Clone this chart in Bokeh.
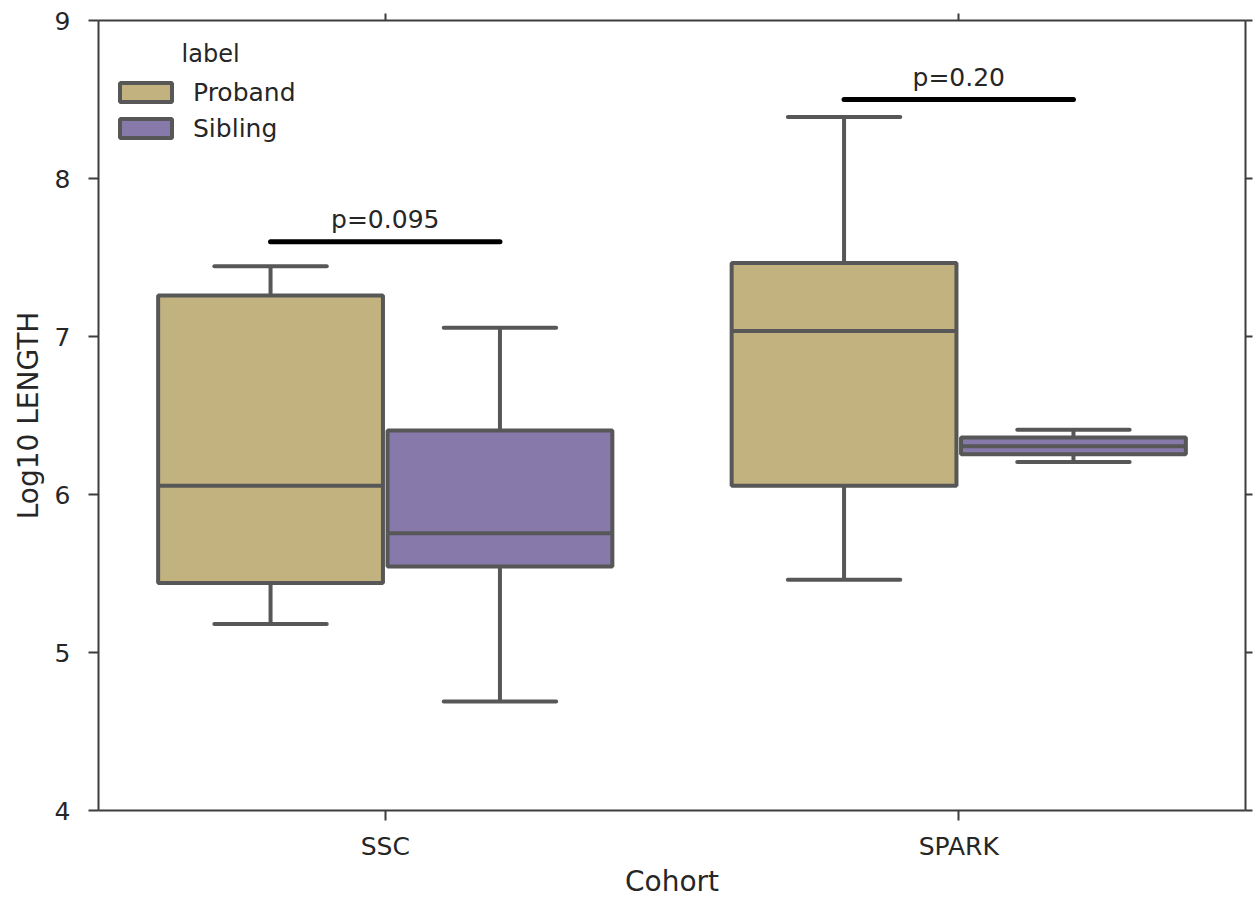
from bokeh.plotting import figure
from bokeh.models import (LinearAxis, Range1d, FixedTicker, Legend, LegendItem,
                          ColumnDataSource, Label)
from bokeh.core.properties import value
from bokeh.embed import file_html
from bokeh.resources import INLINE

# ---- data ---------------------------------------------------------------
cohorts = ["SSC", "SPARK"]
labels = ["Proband", "Sibling"]

# box statistics (log10 length) per cohort, one list per label
proband_low = [5.18, 5.46]
proband_q1 = [5.44, 6.055]
proband_median = [6.055, 7.035]
proband_q3 = [7.26, 7.465]
proband_high = [7.445, 8.39]

sibling_low = [4.69, 6.205]
sibling_q1 = [5.545, 6.255]
sibling_median = [5.755, 6.305]
sibling_q3 = [6.405, 6.36]
sibling_high = [7.055, 6.41]

p_values = ["p=0.095", "p=0.20"]
bracket_heights = [7.6, 8.5]

y_ticks = [4, 5, 6, 7, 8, 9]

# ---- styling ------------------------------------------------------------
FONT = "DejaVu Sans"
TEXT = "#262626"
EDGE = "#575757"
SPINE = "#3d3d3d"
LW = 4
colors = {"Proband": "#c1b27f", "Sibling": "#877aab"}
offsets = {"Proband": -0.2, "Sibling": 0.2}
BOX_W = 0.392
CAP_W = BOX_W / 2

p = figure(width=1253, height=900, x_range=Range1d(-0.5, 1.5), y_range=Range1d(4, 9),
           x_axis_type=None, y_axis_type=None, output_backend="svg",
           toolbar_location=None, min_border_left=98, min_border_right=8,
           min_border_top=20, min_border_bottom=90)
p.grid.visible = False
p.outline_line_color = None
p.background_fill_color = "white"
p.border_fill_color = "white"

stats = {
    "Proband": (proband_low, proband_q1, proband_median, proband_q3, proband_high),
    "Sibling": (sibling_low, sibling_q1, sibling_median, sibling_q3, sibling_high),
}

legend_items = []
for lab in labels:
    lo, q1, med, q3, hi = stats[lab]
    xs = [i + offsets[lab] for i in range(len(cohorts))]
    src = ColumnDataSource(dict(
        x=xs, lo=lo, q1=q1, med=med, q3=q3, hi=hi,
        bx0=[x - BOX_W / 2 for x in xs], bx1=[x + BOX_W / 2 for x in xs],
        cx0=[x - CAP_W / 2 for x in xs], cx1=[x + CAP_W / 2 for x in xs],
    ))
    # whiskers
    p.segment(x0="x", y0="q3", x1="x", y1="hi", source=src, line_color=EDGE, line_width=LW)
    p.segment(x0="x", y0="lo", x1="x", y1="q1", source=src, line_color=EDGE, line_width=LW)
    # caps
    p.segment(x0="cx0", y0="hi", x1="cx1", y1="hi", source=src, line_color=EDGE,
              line_width=LW, line_cap="round")
    p.segment(x0="cx0", y0="lo", x1="cx1", y1="lo", source=src, line_color=EDGE,
              line_width=LW, line_cap="round")
    # boxes
    box = p.quad(left="bx0", right="bx1", bottom="q1", top="q3", source=src,
                 fill_color=colors[lab], line_color=EDGE, line_width=LW)
    # medians
    p.segment(x0="bx0", y0="med", x1="bx1", y1="med", source=src, line_color=EDGE,
              line_width=LW)
    legend_items.append(LegendItem(label=lab, renderers=[box]))

# significance brackets
br = ColumnDataSource(dict(
    x0=[i + offsets["Proband"] for i in range(len(cohorts))],
    x1=[i + offsets["Sibling"] for i in range(len(cohorts))],
    xc=[float(i) for i in range(len(cohorts))],
    y=bracket_heights, txt=p_values,
))
p.segment(x0="x0", y0="y", x1="x1", y1="y", source=br, line_color="black",
          line_width=5, line_cap="round")
p.text(x="xc", y="y", text="txt", source=br, text_font=value(FONT),
       text_font_size="25px", text_color=TEXT, text_align="center",
       text_baseline="middle", y_offset=-22)

# axes on all four sides, ticks pointing out
def style_axis(ax, show_labels):
    ax.axis_line_color = SPINE
    ax.axis_line_width = 2
    ax.major_tick_line_color = SPINE
    ax.major_tick_line_width = 2
    ax.major_tick_out = 10
    ax.major_tick_in = 0
    ax.minor_tick_line_color = None
    ax.major_label_text_font = FONT
    ax.major_label_text_color = TEXT
    ax.axis_label_text_font = FONT
    ax.axis_label_text_color = TEXT
    ax.axis_label_text_font_style = "normal"
    ax.major_label_text_font_size = "25px"
    ax.axis_label_text_font_size = "28px"
    if not show_labels:
        ax.major_label_standoff = 0
        ax.major_tick_out = 7

x_ticker = FixedTicker(ticks=[float(i) for i in range(len(cohorts))])
x_overrides = {float(i): c for i, c in enumerate(cohorts)}
y_ticker = FixedTicker(ticks=y_ticks)

bottom = LinearAxis(ticker=x_ticker, axis_label="Cohort")
bottom.major_label_overrides = x_overrides
style_axis(bottom, True)
bottom.major_label_standoff = 11
bottom.axis_label_standoff = 1
p.add_layout(bottom, "below")

left = LinearAxis(ticker=y_ticker, axis_label="Log10 LENGTH")
style_axis(left, True)
left.major_label_standoff = 18
left.axis_label_standoff = 7
p.add_layout(left, "left")

# mirrored tick marks on the top and right edges, without labels
top = LinearAxis(ticker=x_ticker)
top.major_label_overrides = {float(i): "" for i in range(len(cohorts))}
style_axis(top, False)
p.add_layout(top, "above")

right = LinearAxis(ticker=y_ticker)
right.major_label_overrides = {t: "" for t in y_ticks}
style_axis(right, False)
p.add_layout(right, "right")

legend = Legend(items=legend_items, location=(15, 667), border_line_color=None,
                background_fill_alpha=0, padding=0, margin=0, spacing=6,
                glyph_width=65, glyph_height=24, label_height=30, label_standoff=15,
                label_text_font=FONT, label_text_font_size="25px",
                label_text_color=TEXT)
p.add_layout(legend, "center")

p.add_layout(Label(x=-0.3045, y=8.785, text="label", text_font=FONT,
                   text_font_size="24px", text_color=TEXT, text_align="center",
                   text_baseline="middle"))

open("out.html", "w").write(file_html(p, INLINE))
